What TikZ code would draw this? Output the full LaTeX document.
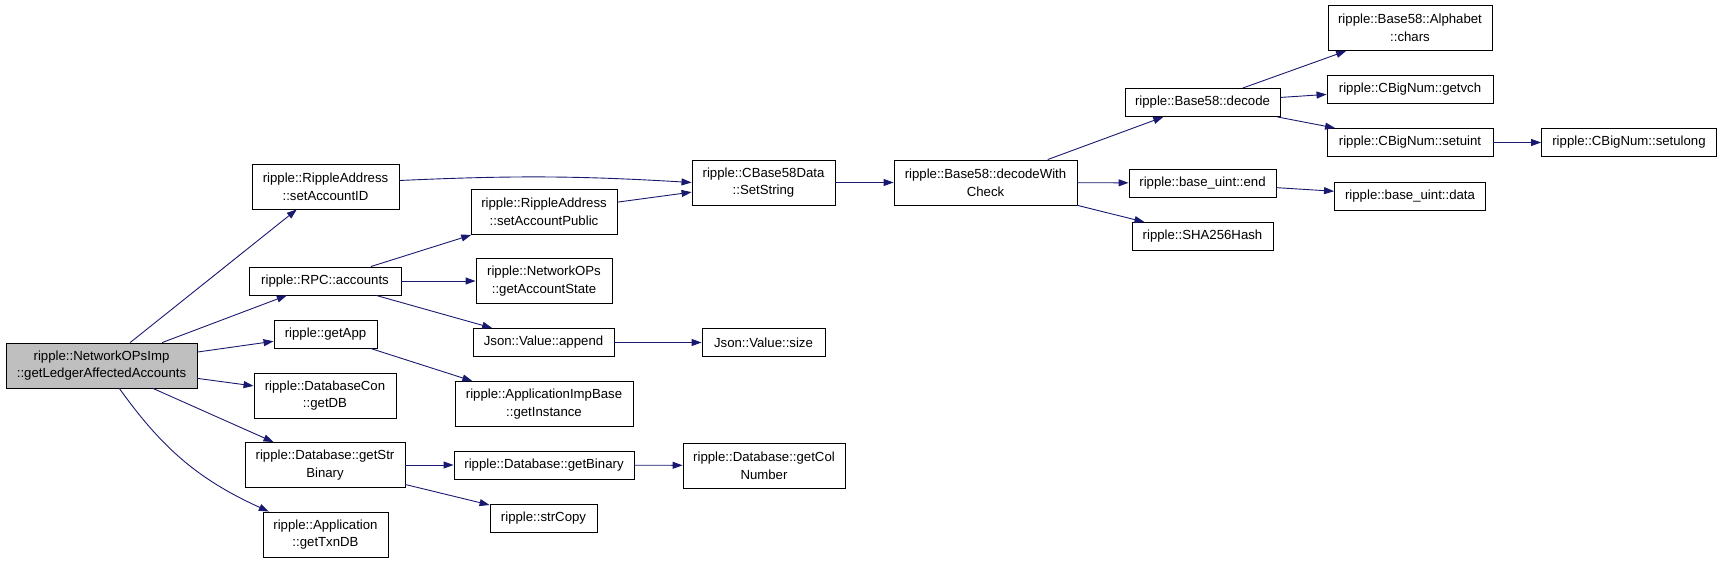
\documentclass[tikz,border=0pt]{standalone}
\usepackage{fontspec}
\setmainfont{Liberation Sans}
\usetikzlibrary{arrows.meta}
\definecolor{edgeblue}{HTML}{191970}
\definecolor{mainfill}{HTML}{BFBFBF}
\tikzset{
  fn/.style={draw=black, line width=0.9pt, fill=white, inner sep=0pt, align=center,
    font=\fontsize{13.2}{17.6}\selectfont},
  mainfn/.style={fn, fill=mainfill},
  call/.style={draw=edgeblue, line width=0.9pt, -{Triangle[length=10pt,width=7pt]}},
}
\begin{document}
\begin{tikzpicture}[x=1pt,y=-1pt]
\useasboundingbox (0,0) rectangle (1723,563);
% column 0
\node[mainfn, minimum width=191pt, minimum height=45pt] (main) at (101.5,365.5) {ripple::NetworkOPsImp\\::getLedgerAffectedAccounts};
% column 1
\node[fn, minimum width=147pt, minimum height=45pt] (setid) at (325.5,186.5) {ripple::RippleAddress\\::setAccountID};
\node[fn, minimum width=152pt, minimum height=28pt] (accounts) at (325,281) {ripple::RPC::accounts};
\node[fn, minimum width=103pt, minimum height=28pt] (getapp) at (325.5,334) {ripple::getApp};
\node[fn, minimum width=142pt, minimum height=45pt] (getdb) at (325,395.5) {ripple::DatabaseCon\\::getDB};
\node[fn, minimum width=160pt, minimum height=45pt] (strbin) at (325,465) {ripple::Database::getStr\\Binary};
\node[fn, minimum width=125pt, minimum height=45pt] (txndb) at (325.5,534.5) {ripple::Application\\::getTxnDB};
% column 2
\node[fn, minimum width=146pt, minimum height=45pt] (setpub) at (544,212) {ripple::RippleAddress\\::setAccountPublic};
\node[fn, minimum width=136pt, minimum height=45pt] (accstate) at (544,281) {ripple::NetworkOPs\\::getAccountState};
\node[fn, minimum width=141pt, minimum height=28pt] (append) at (543.5,342.5) {Json::Value::append};
\node[fn, minimum width=178pt, minimum height=45pt] (instance) at (544,404) {ripple::ApplicationImpBase\\::getInstance};
\node[fn, minimum width=180pt, minimum height=28pt] (getbin) at (544,465) {ripple::Database::getBinary};
\node[fn, minimum width=107pt, minimum height=28pt] (strcopy) at (543.5,518) {ripple::strCopy};
% column 3
\node[fn, minimum width=143pt, minimum height=45pt] (setstring) at (763.5,182.5) {ripple::CBase58Data\\::SetString};
\node[fn, minimum width=123pt, minimum height=28pt] (size) at (763.5,342.5) {Json::Value::size};
\node[fn, minimum width=162pt, minimum height=45pt] (colnum) at (764,465.5) {ripple::Database::getCol\\Number};
% column 4
\node[fn, minimum width=183pt, minimum height=45pt] (dwc) at (985.5,182.5) {ripple::Base58::decodeWith\\Check};
% column 5
\node[fn, minimum width=155pt, minimum height=28pt] (decode) at (1202.5,102.5) {ripple::Base58::decode};
\node[fn, minimum width=147pt, minimum height=28pt] (end) at (1202.5,183) {ripple::base\_uint::end};
\node[fn, minimum width=141pt, minimum height=28pt] (sha) at (1202.5,236.5) {ripple::SHA256Hash};
% column 6
\node[fn, minimum width=164pt, minimum height=45pt] (chars) at (1410,28) {ripple::Base58::Alphabet\\::chars};
\node[fn, minimum width=166pt, minimum height=28pt] (getvch) at (1410,89) {ripple::CBigNum::getvch};
\node[fn, minimum width=166pt, minimum height=28pt] (setuint) at (1410,142.5) {ripple::CBigNum::setuint};
\node[fn, minimum width=151pt, minimum height=28pt] (data) at (1410,196) {ripple::base\_uint::data};
% column 7
\node[fn, minimum width=175pt, minimum height=28pt] (setulong) at (1629,142.5) {ripple::CBigNum::setulong};
% edges
\draw[call] (main) -- (setid);
\draw[call] (main) -- (accounts);
\draw[call] (main) -- (getapp);
\draw[call] (main) -- (getdb);
\draw[call] (main) -- (strbin);
\draw[call] (main) to[bend right=15] (txndb);
\draw[call] (setid.east) ++(0,-6) to[bend left=3] (setstring.west);
\draw[call] (setpub) -- (setstring);
\draw[call] (accounts) -- (setpub);
\draw[call] (accounts) -- (accstate);
\draw[call] (accounts) -- (append);
\draw[call] (append) -- (size);
\draw[call] (getapp) -- (instance);
\draw[call] (strbin.east |- getbin) -- (getbin);
\draw[call] (strbin) -- (strcopy);
\draw[call] (getbin) -- (colnum);
\draw[call] (setstring) -- (dwc);
\draw[call] (dwc) -- (decode);
\draw[call] (dwc) -- (end);
\draw[call] (dwc) -- (sha);
\draw[call] (decode) -- (chars);
\draw[call] (decode) -- (getvch);
\draw[call] (decode) -- (setuint);
\draw[call] (setuint) -- (setulong);
\draw[call] (end) -- (data);
\end{tikzpicture}
\end{document}
